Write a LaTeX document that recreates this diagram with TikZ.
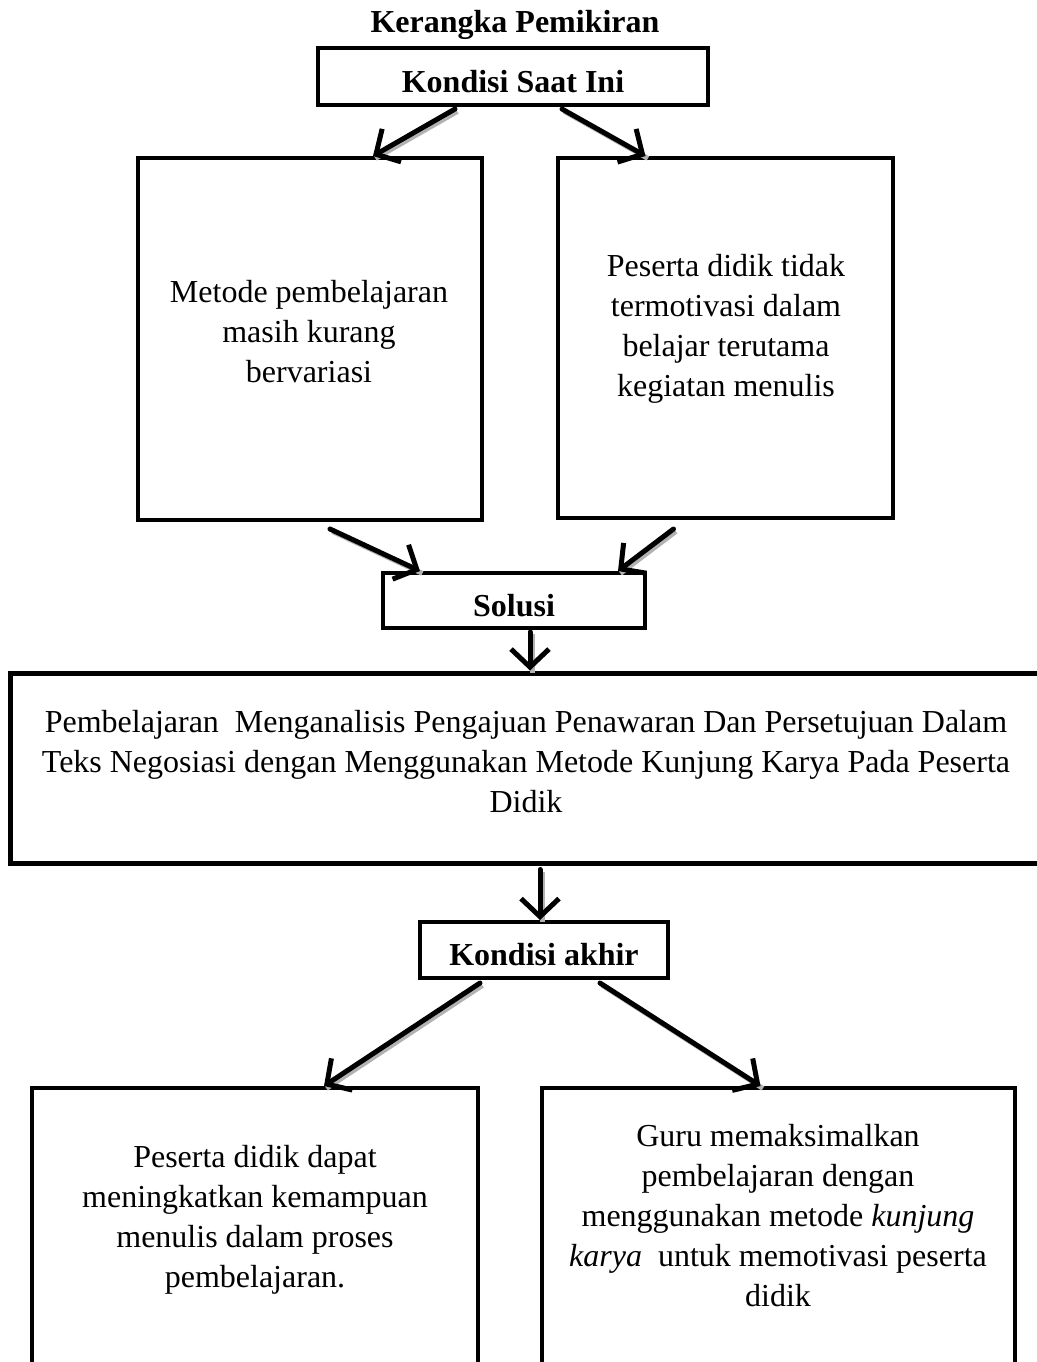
\documentclass[tikz,border=0pt]{standalone}
\usepackage{fontspec}
\setmainfont{Liberation Serif}
\usetikzlibrary{arrows.meta}
\begin{document}
\begin{tikzpicture}[x=0.5pt, y=-0.5pt, line join=miter,
    font=\fontsize{16pt}{20pt}\selectfont,
    box/.style={draw, line width=2pt, inner sep=0pt, align=center},
    head/.style={box, font=\fontsize{16pt}{20pt}\selectfont\bfseries,
      text height=15.5pt, text depth=0pt},
    txt/.style={inner sep=0pt, align=center},
    arr/.style={line width=2.5pt, line cap=round,
      -{Straight Barb[length=9pt, width=19pt, line width=2.5pt]},
      preaction={draw=black!30, -, line width=2.5pt,
        transform canvas={shift={(1.2pt,-1.2pt)}}}}]
  \useasboundingbox (0,0) rectangle (1037,1362);
  \clip (0,0) rectangle (1037,1362);
  \node[txt, font=\fontsize{16pt}{20pt}\selectfont\bfseries] (judul) at (515,25) {Kerangka Pemikiran};
  \node[head, minimum width=195pt, minimum height=28.5pt] (kini) at (513,76.5) {Kondisi Saat Ini};
  \node[box, minimum width=172pt, minimum height=181pt] (metode) at (310,339) {};
  \node[txt] (t_metode) at (309,332) {Metode pembelajaran\\ masih kurang\\ bervariasi};
  \node[box, minimum width=167.5pt, minimum height=180pt] (motivasi) at (725.5,338) {};
  \node[txt] (t_motivasi) at (726,329) {Peserta didik tidak\\ termotivasi dalam\\ belajar terutama\\ kegiatan menulis};
  \node[head, minimum width=131pt, minimum height=27.5pt] (solusi) at (514,600.5) {Solusi};
  \node[box, line width=2.5pt, minimum width=517.5pt, minimum height=95pt] (tindakan) at (527.5,768) {};
  \node[txt] (t_tindakan) at (526,762) {Pembelajaran~ Menganalisis Pengajuan Penawaran Dan Persetujuan Dalam\\
    Teks Negosiasi dengan Menggunakan Metode Kunjung Karya Pada Peserta\\ Didik};
  \node[head, minimum width=124pt, minimum height=28pt] (akhir) at (544,950) {Kondisi akhir};
  \node[box, minimum width=223pt, minimum height=160pt] (hasil1) at (255,1248) {};
  \node[txt] (t_hasil1) at (255,1220) {Peserta didik dapat\\ meningkatkan kemampuan\\ menulis dalam proses\\ pembelajaran.};
  \node[box, minimum width=236.5pt, minimum height=160pt] (hasil2) at (778.5,1248) {};
  \node[txt] (t_hasil2) at (778,1216) {Guru memaksimalkan\\ pembelajaran dengan\\ menggunakan metode \textit{kunjung}\\
    \textit{karya}~ untuk memotivasi peserta\\ didik};
  % panah
  \draw[arr] ([xshift=-29pt,yshift=-1pt]kini.south) -- ([xshift=31.5pt]metode.north);
  \draw[arr] ([xshift=24.5pt,yshift=-1pt]kini.south) -- ([xshift=-40pt]motivasi.north);
  \draw[arr] ([xshift=10pt,yshift=-3.5pt]metode.south) -- ([xshift=-47pt]solusi.north);
  \draw[arr] ([xshift=-26pt,yshift=-4.5pt]motivasi.south) -- ([xshift=52pt]solusi.north);
  \draw[arr] ([xshift=8pt,yshift=-1pt]solusi.south) -- ([xshift=8pt]solusi.south |- tindakan.north);
  \draw[arr] ([xshift=-2pt,yshift=-2pt]akhir.north |- tindakan.south) -- ([xshift=-2pt]akhir.north);
  \draw[arr] ([xshift=-32pt,yshift=-1.5pt]akhir.south) -- ([xshift=34.5pt]hasil1.north);
  \draw[arr] ([xshift=28pt,yshift=-1.5pt]akhir.south) -- ([xshift=-9pt]hasil2.north);
\end{tikzpicture}
\end{document}
